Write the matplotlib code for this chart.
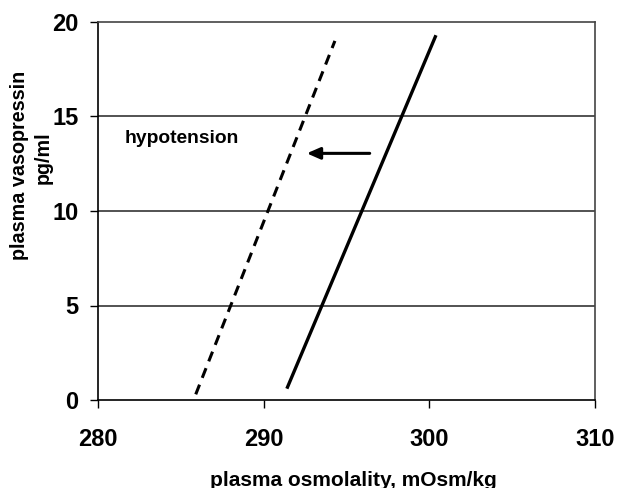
import matplotlib
matplotlib.use("Agg")
import matplotlib.pyplot as plt

# Data
normal_x = [291.4, 300.4]
normal_y = [0.6, 19.3]
hypo_x = [285.9, 294.3]
hypo_y = [0.3, 19.0]
arrow_start = (296.4, 13.05)
arrow_end = (292.6, 13.05)
xticks = [280, 290, 300, 310]
yticks = [0, 5, 10, 15, 20]

plt.rcParams['font.family'] = ['Liberation Sans', 'DejaVu Sans']
plt.rcParams['font.weight'] = 'bold'

fig = plt.figure(figsize=(6.19, 4.88), dpi=100)
ax = fig.add_axes([98/619, 1-400/488, (595-98)/619, (400-22)/488])
ax.set_xlim(280, 310)
ax.set_ylim(0, 20)

for g in [5, 10, 15]:
    ax.axhline(g, color='#444444', lw=1.3, zorder=1)

ax.plot(normal_x, normal_y, color='black', lw=2.4, solid_capstyle='butt', zorder=3)
ax.plot(hypo_x, hypo_y, color='black', lw=2.2, linestyle=(0, (3.4, 2.4)), zorder=3)

ax.annotate('', xy=arrow_end, xytext=arrow_start,
            arrowprops=dict(arrowstyle='-|>,head_length=0.8,head_width=0.35', color='black', lw=2.2,
                            shrinkA=0, shrinkB=0))
ax.text(281.6, 13.85, 'hypotension', fontsize=13.9, fontweight='bold', va='center', ha='left')

ax.set_xticks(xticks)
ax.set_yticks(yticks)
ax.tick_params(axis='both', labelsize=17, length=6, width=1, direction='out')
ax.tick_params(axis='x', pad=14)
ax.tick_params(axis='y', pad=8)
for lab in ax.get_xticklabels() + ax.get_yticklabels():
    lab.set_fontweight('bold')
for s in ['left', 'bottom']:
    ax.spines[s].set_color('black')
    ax.spines[s].set_linewidth(1.2)
for s in ['top', 'right']:
    ax.spines[s].set_color('#444444')
    ax.spines[s].set_linewidth(1.2)

fig.text(353/619, 1-480/488, 'plasma osmolality, mOsm/kg', fontsize=15, fontweight='bold', ha='center', va='center')
fig.text(20/619, 1-165/488, 'plasma vasopressin', rotation=90, fontsize=14.2, fontweight='bold', ha='center', va='center')
fig.text(43/619, 1-158/488, 'pg/ml', rotation=90, fontsize=14.2, fontweight='bold', ha='center', va='center')

fig.savefig('out.png', dpi=100)
